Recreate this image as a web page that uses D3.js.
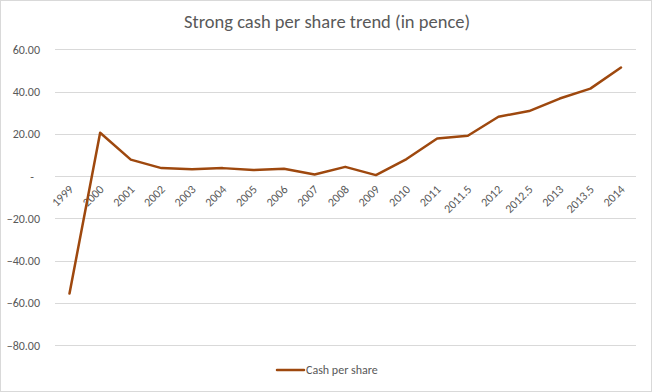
<!DOCTYPE html>
<html><head><meta charset="utf-8">
<script src="https://cdn.jsdelivr.net/npm/d3@7"></script>
<style>body{margin:0;background:#fff}svg{display:block}</style>
</head><body>
<script>
const categories = ["1999","2000","2001","2002","2003","2004","2005","2006","2007","2008","2009","2010","2011","2011.5","2012","2012.5","2013","2013.5","2014"];
const cashPerShare = [-55.5,20.5,7.8,3.8,3.3,3.8,2.9,3.5,0.8,4.4,0.5,8.1,17.8,19.1,28.1,30.8,36.7,41.4,51.4];
const yTicks = [60,40,20,0,-20,-40,-60,-80];
const seriesName = "Cash per share";
const title = "Strong cash per share trend (in pence)";

const W = 652, H = 392;
const svg = d3.select("body").append("svg").attr("width", W).attr("height", H);
svg.append("rect").attr("x",0.5).attr("y",0.5).attr("width",W-1).attr("height",H-1)
  .attr("fill","#fff").attr("stroke","#d9d9d9");

const x = d3.scalePoint().domain(categories).range([69.5, 621]);
const y = d3.scaleLinear().domain([-80, 60]).range([345.3, 49.3]);

const font = "Calibri, Carlito, 'Open Sans', sans-serif";

svg.append("text").attr("x", 327).attr("y", 28).attr("text-anchor","middle")
  .attr("font-family", font).attr("font-size", 18.5).attr("fill","#595959").text(title);

// gridlines
svg.append("g").selectAll("line").data(yTicks).join("line")
  .attr("x1", 55).attr("x2", 636)
  .attr("y1", d => Math.round(y(d)) + 0.5).attr("y2", d => Math.round(y(d)) + 0.5)
  .attr("stroke", "#d9d9d9").attr("stroke-width", 1);

// y axis labels
const yAxis = d3.axisLeft(y).tickValues(yTicks).tickSize(0)
  .tickFormat(d => d === 0 ? "-" : d3.format(".2f")(d));
const gy = svg.append("g").attr("transform","translate(40,0)").call(yAxis);
gy.select(".domain").remove();
gy.selectAll("text").attr("font-family", font).attr("font-size", 12).attr("fill","#595959").attr("x", 0)
  .attr("dx", d => d === 0 ? -6 : 0);

// x axis labels
const xAxis = d3.axisBottom(x).tickSize(0);
const gx = svg.append("g").attr("transform", `translate(0,${y(0)})`).call(xAxis);
gx.select(".domain").remove();
gx.selectAll("text")
  .attr("font-family", font).attr("font-size", 12).attr("fill","#595959")
  .attr("text-anchor","end").attr("dy", null).attr("y", 0)
  .attr("transform","translate(4,14) rotate(-45)");

// line
const line = d3.line().x((d,i) => x(categories[i])).y(d => y(d));
svg.append("path").datum(cashPerShare).attr("d", line)
  .attr("fill","none").attr("stroke","#9E480E").attr("stroke-width",2.5)
  .attr("stroke-linejoin","round").attr("stroke-linecap","round");

// legend
svg.append("line").attr("x1",277).attr("x2",304).attr("y1",370).attr("y2",370)
  .attr("stroke","#9E480E").attr("stroke-width",2.5).attr("stroke-linecap","round");
svg.append("text").attr("x",306).attr("y",374).attr("font-family",font).attr("font-size",12)
  .attr("fill","#595959").text(seriesName);
</script>
</body></html>
